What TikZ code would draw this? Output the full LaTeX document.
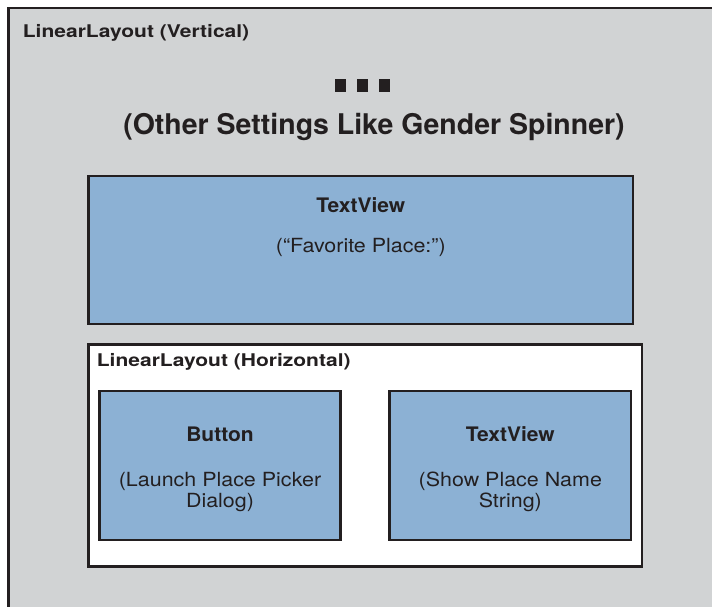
\documentclass[tikz,border=0pt]{standalone}
\usepackage{fontspec}
\setmainfont{TeX Gyre Heros}
\newfontfamily\titlefont[FakeStretch=1.2]{TeX Gyre Heros}
\newfontfamily\headfont[FakeStretch=1.05]{TeX Gyre Heros}
\newfontfamily\bodyfont[FakeStretch=1.1]{TeX Gyre Heros}
\definecolor{outergray}{HTML}{D1D3D4}
\definecolor{viewblue}{HTML}{8CB1D4}
\definecolor{inkdark}{HTML}{231F20}
\tikzset{
  layoutbox/.style={draw=inkdark, line width=2.7pt, fill=outergray},
  innerlayout/.style={draw=inkdark, line width=2.7pt, fill=white},
  viewbox/.style={draw=inkdark, line width=2.7pt, fill=viewblue},
  titletext/.style={inner sep=0pt, anchor=base west, text=inkdark, font=\titlefont\bfseries\fontsize{17.5}{21}\selectfont},
  headtext/.style={inner sep=0pt, anchor=base, text=inkdark, font=\headfont\bfseries\fontsize{20}{24}\selectfont},
  bodytext/.style={inner sep=0pt, anchor=base, align=center, text=inkdark, font=\bodyfont\fontsize{19.5}{21}\selectfont},
  bigtext/.style={inner sep=0pt, anchor=base, text=inkdark, font=\bfseries\fontsize{28.5}{32}\selectfont},
  dot/.style={fill=inkdark, draw=none}
}
\begin{document}
\begin{tikzpicture}[x=1pt, y=-1pt]
\useasboundingbox (0,0) rectangle (712,606);
\begin{scope}
\clip (0,0) rectangle (712,606);
\draw[layoutbox] (8.7,8) rectangle (730,630);
\end{scope}
\node[titletext] (vtitle) at (22.7,37.3) {LinearLayout (Vertical)};
\fill[dot] (335,79.3) rectangle (345.7,91.7);
\fill[dot] (356.7,79.3) rectangle (367.7,91.7);
\fill[dot] (378.7,79.3) rectangle (389.7,91.7);
\node[bigtext] (other) at (374,134) {(Other Settings Like Gender Spinner)};
% Top TextView
\draw[viewbox] (88.7,176) rectangle (633,324);
\node[headtext] (tv1) at (360.8,212.7) {TextView};
\node[bodytext] (tv1sub) at (360.8,252.7) {(“Favorite Place:”)};
% Horizontal layout
\draw[innerlayout] (88.5,344.5) rectangle (642,566.5);
\node[titletext] (htitle) at (96.7,366.7) {LinearLayout (Horizontal)};
% Button
\draw[viewbox] (99.5,391) rectangle (340.5,540);
\node[headtext] (btn) at (220,441) {Button};
\node[bodytext] (btnsub) at (220,507) {(Launch Place Picker\\Dialog)};
% TextView 2
\draw[viewbox] (389.5,391) rectangle (631,540);
\node[headtext] (tv2) at (510.3,441) {TextView};
\node[bodytext] (tv2sub) at (510.3,507) {(Show Place Name\\String)};
\end{tikzpicture}
\end{document}
